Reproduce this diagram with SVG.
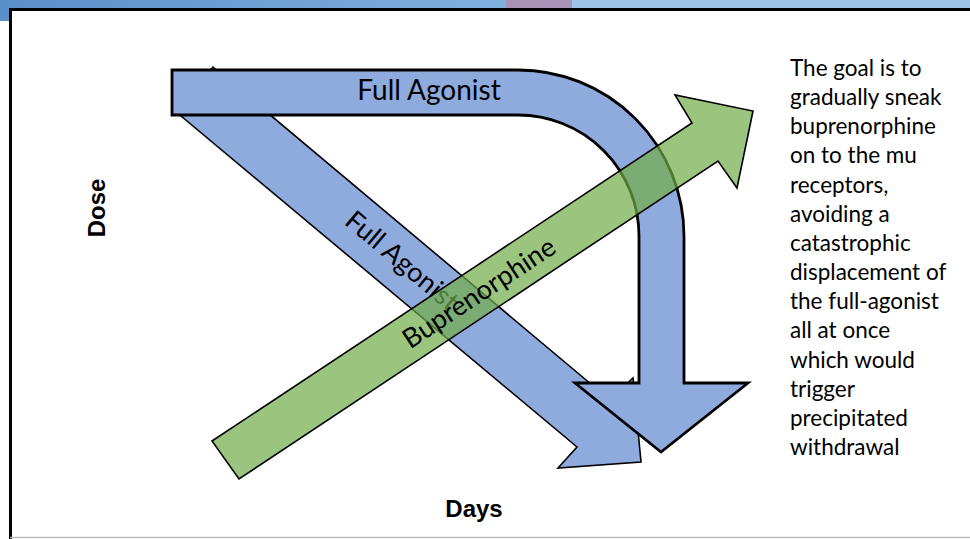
<svg xmlns="http://www.w3.org/2000/svg" width="970" height="539" viewBox="0 0 970 539">
<defs>
<linearGradient id="barGrad" x1="0" y1="0" x2="1" y2="0">
<stop offset="0" stop-color="#5b8fc9"/>
<stop offset="1" stop-color="#7fb1de"/>
</linearGradient>
</defs>
<style>
.lbl{font-family:Lato,"Liberation Sans",sans-serif;fill:#000}
.blue{fill:#8faadc;stroke:#000;stroke-linejoin:miter}
.green{fill:#70ad47;fill-opacity:0.7;stroke:#000;stroke-width:1.6;stroke-linejoin:miter}
.axis{font-family:"Liberation Sans",sans-serif;font-weight:bold;font-size:24px;fill:#000}
.note{font-family:Lato,"Liberation Sans",sans-serif;font-size:22.5px;fill:#000}
</style>
<rect x="0" y="0" width="970" height="539" fill="#fff"/>
<g id="topbar">
<rect x="0" y="0" width="506" height="8" fill="url(#barGrad)"/>
<rect x="506" y="0" width="66" height="8" fill="#a892b6"/>
<rect x="572" y="0" width="398" height="8" fill="#9dc3e6"/>
<rect x="0" y="8" width="9" height="13" fill="#5b8fc9"/>
</g>
<g id="frame">
<path d="M10.5 539 V9.5 H970" fill="none" stroke="#000" stroke-width="3"/>
<line x1="10" y1="537.5" x2="970" y2="537.5" stroke="#bbb" stroke-width="1.5"/>
</g>
<g id="connectors">
<g id="full-agonist-diagonal">
<polygon class="blue" stroke-width="1.6" points="213,67 610,400 633,378 641,462 558,468 577,447 175,111"/>
<text class="lbl" font-size="27" x="402" y="270" text-anchor="middle" transform="rotate(40 402 261)">Full Agonist</text>
</g>
<g id="full-agonist-curved">
<path class="blue" stroke-width="2.8" d="M172 70 H518 A166 166 0 0 1 684 236 V383 H748 L661 452 L575 383 H639 V236 A121 121 0 0 0 518 115 H172 Z"/>
<text class="lbl" font-size="28" x="429" y="100" text-anchor="middle">Full Agonist</text>
</g>
<g id="buprenorphine">
<polygon class="green" points="212,441 692,123 675,95 753,111 737,188 718,161 239,479"/>
<text class="lbl" font-size="27" x="479" y="302" text-anchor="middle" transform="rotate(-33.5 479 293)">Buprenorphine</text>
</g>
</g>
<g id="axis-dose">
<text class="axis" x="97" y="216" text-anchor="middle" transform="rotate(-90 97 208)">Dose</text>
</g>
<g id="axis-days">
<text class="axis" font-size="25.5" x="474" y="517" text-anchor="middle">Days</text>
</g>
<g id="note">
<text class="note" x="790">
<tspan x="790" y="76">The goal is to</tspan>
<tspan x="790" y="105">gradually sneak</tspan>
<tspan x="790" y="134">buprenorphine</tspan>
<tspan x="790" y="163">on to the mu</tspan>
<tspan x="790" y="193">receptors,</tspan>
<tspan x="790" y="222">avoiding a</tspan>
<tspan x="790" y="251">catastrophic</tspan>
<tspan x="790" y="280">displacement of</tspan>
<tspan x="790" y="309">the full-agonist</tspan>
<tspan x="790" y="338">all at once</tspan>
<tspan x="790" y="368">which would</tspan>
<tspan x="790" y="397">trigger</tspan>
<tspan x="790" y="426">precipitated</tspan>
<tspan x="790" y="455">withdrawal</tspan>
</text>
</g>
</svg>
